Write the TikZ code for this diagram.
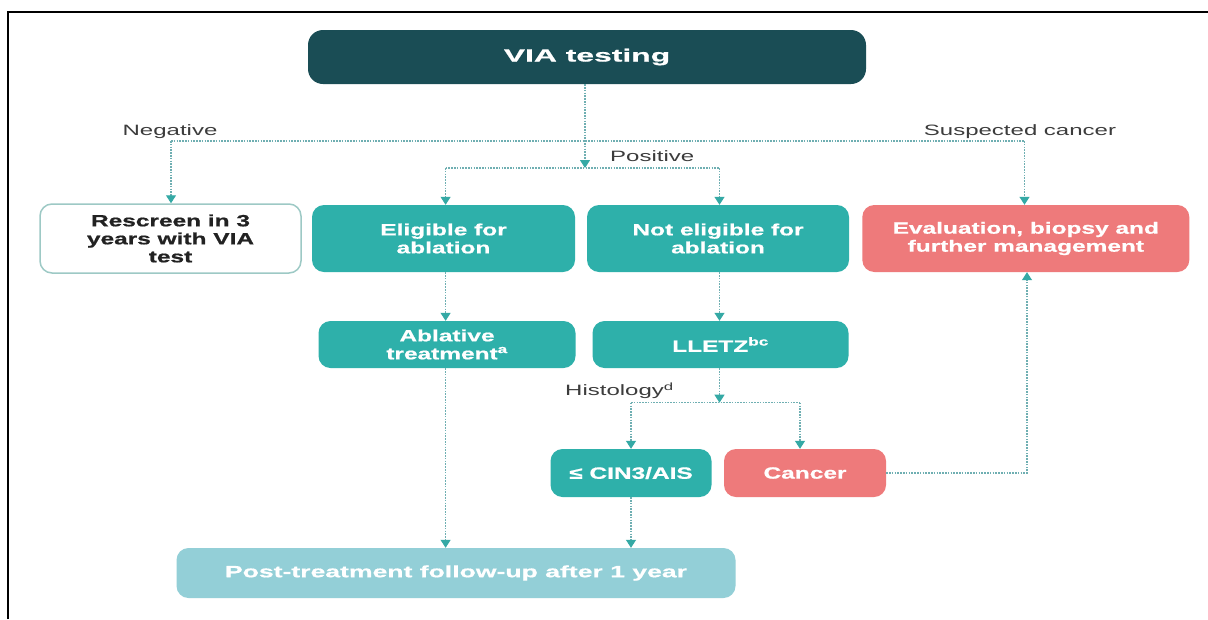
\documentclass[tikz,border=0pt]{standalone}
\usepackage{fontspec}
\usetikzlibrary{arrows.meta}
\newfontfamily\boxfont{Liberation Sans}[FakeStretch=1.5,FakeBold=0.8]
\newfontfamily\viafont{Liberation Sans}[FakeStretch=1.8,FakeBold=0.8]
\newfontfamily\postfont{Liberation Sans}[FakeStretch=1.63,FakeBold=0.8]
\newfontfamily\labelfont{Liberation Sans}[FakeStretch=1.6]
\definecolor{cdark}{HTML}{1A4D55}
\definecolor{cteal}{HTML}{2EB0AA}
\definecolor{csalmon}{HTML}{EE7A7B}
\definecolor{cpost}{HTML}{93CFD7}
\definecolor{cline}{HTML}{6FAFB2}
\definecolor{carrow}{HTML}{34A9A5}
\definecolor{cborder}{HTML}{9DC9C5}
\definecolor{clabel}{HTML}{3C3C3C}
\definecolor{ctext}{HTML}{222222}
\tikzset{
  bx/.style={rounded corners=12pt, inner sep=0pt, align=center, text=white,
    font=\boxfont\bfseries\fontsize{16.3}{18}\selectfont},
  tealbox/.style={bx, fill=cteal},
  salmonbox/.style={bx, fill=csalmon},
  conn/.style={draw=cline, line width=1.1pt, dash pattern=on 1.6pt off 1.2pt},
  arr/.style={conn, -{Triangle[width=10pt,length=8pt,fill=carrow,color=carrow]}},
  lbl/.style={font=\labelfont\fontsize{15}{18}\selectfont, text=clabel, inner sep=0pt},
}
\begin{document}
\begin{tikzpicture}[x=1pt,y=-1pt]
\useasboundingbox (0,0) rectangle (1208,619);
\fill[white] (0,0) rectangle (1208,619);
\draw[line width=2pt] (7.8,619) -- (7.8,11.5) -- (1208,11.5);

% nodes
\node[bx, fill=cdark, minimum width=558pt, minimum height=54pt, rounded corners=15pt,
  font=\viafont\bfseries\fontsize{17.7}{20}\selectfont] (via) at (587,57) {VIA testing};
\node[bx, draw=cborder, line width=1.5pt, fill=white, text=ctext, minimum width=261pt, minimum height=69pt] (resc) at (170.5,238.5) {Rescreen in 3\\years with VIA\\test};
\node[tealbox, minimum width=263pt, minimum height=67pt] (elig) at (443.5,238.5) {Eligible for\\ablation};
\node[tealbox, minimum width=262pt, minimum height=67pt] (nelig) at (718,238.5) {Not eligible for\\ablation};
\node[salmonbox, minimum width=327pt, minimum height=67pt] (eval) at (1025.8,238.5) {Evaluation, biopsy and\\further management};
\node[tealbox, minimum width=257pt, minimum height=47pt] (abl) at (447,344.5) {Ablative\\treatment\textsuperscript{a}};
\node[tealbox, minimum width=256pt, minimum height=47pt] (llet) at (720.5,344.5) {LLETZ\textsuperscript{bc}};
\node[tealbox, minimum width=161pt, minimum height=48pt] (cin) at (631,473) {≤ CIN3/AIS};
\node[salmonbox, minimum width=162pt, minimum height=48pt] (canc) at (805,473) {Cancer};
\node[bx, fill=cpost, minimum width=559pt, minimum height=50pt,
  font=\postfont\bfseries\fontsize{16.3}{18.5}\selectfont] (post) at (456,573) {Post-treatment follow-up after 1 year};

% labels
\node[lbl, anchor=base] (neg) at (170,135.7) {Negative};
\node[lbl, anchor=base] (susp) at (1020,135.7) {Suspected cancer};
\node[lbl, anchor=base west] (pos) at (610,161.7) {Positive};
\node[lbl, anchor=base west] (hist) at (565,395.5) {Histology\textsuperscript{d}};

% coordinates
\coordinate (tb) at (585,141);
\coordinate (pb) at (585,168);
\coordinate (ec) at (445.6,168);
\coordinate (nc) at (719.5,168);
\coordinate (hb) at (719.5,402.7);
\coordinate (hl) at (631,402.7);
\coordinate (hc) at (800,402.7);
\coordinate (nl) at (171,141);
\coordinate (sl) at (1024.5,141);
\coordinate (cr) at (1027,473);

% connectors
\draw[arr] (via.south -| pb) -- (pb);
\draw[conn] (nl) -- (sl);
\draw[arr] (nl) -- (nl |- resc.north);
\draw[arr] (sl) -- (sl |- eval.north);
\draw[conn] (ec) -- (nc);
\draw[arr] (ec) -- (ec |- elig.north);
\draw[arr] (nc) -- (nc |- nelig.north);
\draw[arr] (ec |- elig.south) -- (ec |- abl.north);
\draw[arr] (nc |- nelig.south) -- (nc |- llet.north);
\draw[arr] (hb |- llet.south) -- (hb);
\draw[conn] (hl) -- (hc);
\draw[arr] (hl) -- (hl |- cin.north);
\draw[arr] (hc) -- (hc |- canc.north);
\draw[arr] (ec |- abl.south) -- (ec |- post.north);
\draw[arr] (hl |- cin.south) -- (hl |- post.north);
\draw[arr] (canc.east) -- (cr) -- (cr |- eval.south);
\end{tikzpicture}
\end{document}
